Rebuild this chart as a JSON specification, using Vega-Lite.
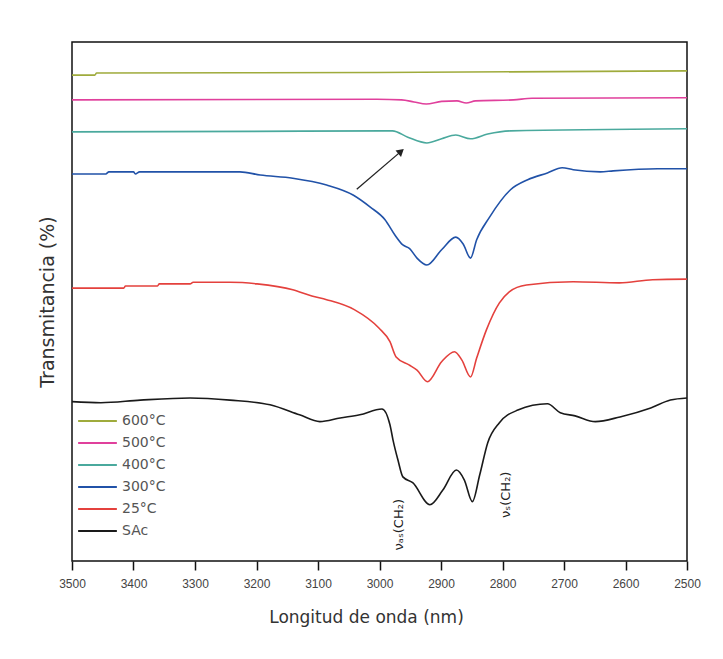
{
  "$schema": "https://vega.github.io/schema/vega-lite/v6.json",
  "width": 615,
  "height": 519,
  "autosize": {"type": "none"},
  "padding": {"left": 72, "top": 42, "right": 36, "bottom": 98},
  "background": "white",
  "config": {
    "font": "Liberation Sans",
    "view": {"stroke": "#111", "strokeWidth": 1.5},
    "axis": {"grid": false}
  },
  "datasets": {
    "spectra": [
      {"series": "600°C", "w": 3500, "t": 93.7},
      {"series": "600°C", "w": 3463, "t": 93.7},
      {"series": "600°C", "w": 3460, "t": 94.1},
      {"series": "600°C", "w": 3004, "t": 94.2},
      {"series": "600°C", "w": 2500, "t": 94.5},

      {"series": "500°C", "w": 3500, "t": 89.0},
      {"series": "500°C", "w": 3004, "t": 89.1},
      {"series": "500°C", "w": 2964, "t": 89.0},
      {"series": "500°C", "w": 2944, "t": 88.6},
      {"series": "500°C", "w": 2924, "t": 88.2},
      {"series": "500°C", "w": 2899, "t": 88.7},
      {"series": "500°C", "w": 2874, "t": 88.8},
      {"series": "500°C", "w": 2859, "t": 88.4},
      {"series": "500°C", "w": 2844, "t": 88.8},
      {"series": "500°C", "w": 2782, "t": 89.0},
      {"series": "500°C", "w": 2752, "t": 89.3},
      {"series": "500°C", "w": 2500, "t": 89.4},

      {"series": "400°C", "w": 3500, "t": 82.9},
      {"series": "400°C", "w": 3205, "t": 83.0},
      {"series": "400°C", "w": 2989, "t": 83.1},
      {"series": "400°C", "w": 2979, "t": 83.1},
      {"series": "400°C", "w": 2954, "t": 81.9},
      {"series": "400°C", "w": 2923, "t": 80.8},
      {"series": "400°C", "w": 2899, "t": 81.6},
      {"series": "400°C", "w": 2876, "t": 82.3},
      {"series": "400°C", "w": 2852, "t": 81.6},
      {"series": "400°C", "w": 2824, "t": 82.5},
      {"series": "400°C", "w": 2787, "t": 83.1},
      {"series": "400°C", "w": 2500, "t": 83.5},

      {"series": "300°C", "w": 3500, "t": 74.9},
      {"series": "300°C", "w": 3445, "t": 74.9},
      {"series": "300°C", "w": 3440, "t": 75.3},
      {"series": "300°C", "w": 3400, "t": 75.3},
      {"series": "300°C", "w": 3397, "t": 74.9},
      {"series": "300°C", "w": 3390, "t": 75.3},
      {"series": "300°C", "w": 3227, "t": 75.3},
      {"series": "300°C", "w": 3194, "t": 74.7},
      {"series": "300°C", "w": 3141, "t": 74.1},
      {"series": "300°C", "w": 3086, "t": 72.8},
      {"series": "300°C", "w": 3043, "t": 70.9},
      {"series": "300°C", "w": 3015, "t": 68.6},
      {"series": "300°C", "w": 2991, "t": 66.2},
      {"series": "300°C", "w": 2975, "t": 63.3},
      {"series": "300°C", "w": 2962, "t": 61.4},
      {"series": "300°C", "w": 2951, "t": 60.7},
      {"series": "300°C", "w": 2939, "t": 58.9},
      {"series": "300°C", "w": 2923, "t": 57.6},
      {"series": "300°C", "w": 2899, "t": 60.5},
      {"series": "300°C", "w": 2876, "t": 62.9},
      {"series": "300°C", "w": 2864, "t": 61.6},
      {"series": "300°C", "w": 2852, "t": 58.9},
      {"series": "300°C", "w": 2842, "t": 62.4},
      {"series": "300°C", "w": 2821, "t": 66.7},
      {"series": "300°C", "w": 2787, "t": 71.9},
      {"series": "300°C", "w": 2759, "t": 73.8},
      {"series": "300°C", "w": 2727, "t": 75.1},
      {"series": "300°C", "w": 2703, "t": 76.1},
      {"series": "300°C", "w": 2685, "t": 75.7},
      {"series": "300°C", "w": 2641, "t": 75.3},
      {"series": "300°C", "w": 2620, "t": 75.5},
      {"series": "300°C", "w": 2548, "t": 75.9},
      {"series": "300°C", "w": 2500, "t": 75.9},

      {"series": "25°C", "w": 3500, "t": 53.2},
      {"series": "25°C", "w": 3416, "t": 53.2},
      {"series": "25°C", "w": 3413, "t": 53.6},
      {"series": "25°C", "w": 3361, "t": 53.6},
      {"series": "25°C", "w": 3358, "t": 54.0},
      {"series": "25°C", "w": 3308, "t": 54.0},
      {"series": "25°C", "w": 3303, "t": 54.3},
      {"series": "25°C", "w": 3243, "t": 54.3},
      {"series": "25°C", "w": 3199, "t": 54.0},
      {"series": "25°C", "w": 3141, "t": 52.9},
      {"series": "25°C", "w": 3110, "t": 51.7},
      {"series": "25°C", "w": 3086, "t": 51.0},
      {"series": "25°C", "w": 3041, "t": 49.1},
      {"series": "25°C", "w": 3001, "t": 45.6},
      {"series": "25°C", "w": 2983, "t": 43.0},
      {"series": "25°C", "w": 2973, "t": 40.1},
      {"series": "25°C", "w": 2952, "t": 38.6},
      {"series": "25°C", "w": 2939, "t": 37.6},
      {"series": "25°C", "w": 2922, "t": 35.4},
      {"series": "25°C", "w": 2899, "t": 39.2},
      {"series": "25°C", "w": 2878, "t": 41.1},
      {"series": "25°C", "w": 2866, "t": 39.5},
      {"series": "25°C", "w": 2852, "t": 36.3},
      {"series": "25°C", "w": 2842, "t": 39.9},
      {"series": "25°C", "w": 2826, "t": 45.3},
      {"series": "25°C", "w": 2805, "t": 50.4},
      {"series": "25°C", "w": 2789, "t": 52.5},
      {"series": "25°C", "w": 2761, "t": 53.8},
      {"series": "25°C", "w": 2685, "t": 54.4},
      {"series": "25°C", "w": 2610, "t": 54.2},
      {"series": "25°C", "w": 2556, "t": 54.8},
      {"series": "25°C", "w": 2500, "t": 54.9},

      {"series": "SAc", "w": 3500, "t": 31.6},
      {"series": "SAc", "w": 3453, "t": 31.4},
      {"series": "SAc", "w": 3389, "t": 31.9},
      {"series": "SAc", "w": 3308, "t": 32.3},
      {"series": "SAc", "w": 3243, "t": 31.9},
      {"series": "SAc", "w": 3178, "t": 31.0},
      {"series": "SAc", "w": 3130, "t": 29.1},
      {"series": "SAc", "w": 3097, "t": 27.8},
      {"series": "SAc", "w": 3064, "t": 28.5},
      {"series": "SAc", "w": 3032, "t": 29.1},
      {"series": "SAc", "w": 2996, "t": 30.2},
      {"series": "SAc", "w": 2983, "t": 27.2},
      {"series": "SAc", "w": 2978, "t": 24.3},
      {"series": "SAc", "w": 2970, "t": 20.5},
      {"series": "SAc", "w": 2962, "t": 17.3},
      {"series": "SAc", "w": 2946, "t": 16.2},
      {"series": "SAc", "w": 2918, "t": 12.0},
      {"series": "SAc", "w": 2897, "t": 14.8},
      {"series": "SAc", "w": 2875, "t": 18.6},
      {"series": "SAc", "w": 2862, "t": 16.7},
      {"series": "SAc", "w": 2849, "t": 12.6},
      {"series": "SAc", "w": 2837, "t": 17.7},
      {"series": "SAc", "w": 2824, "t": 23.8},
      {"series": "SAc", "w": 2805, "t": 27.6},
      {"series": "SAc", "w": 2775, "t": 30.0},
      {"series": "SAc", "w": 2727, "t": 31.2},
      {"series": "SAc", "w": 2706, "t": 29.5},
      {"series": "SAc", "w": 2682, "t": 28.9},
      {"series": "SAc", "w": 2649, "t": 27.8},
      {"series": "SAc", "w": 2609, "t": 28.7},
      {"series": "SAc", "w": 2559, "t": 30.4},
      {"series": "SAc", "w": 2527, "t": 31.9},
      {"series": "SAc", "w": 2500, "t": 32.3}
    ],
    "arrow": [
      {"w": 3037, "t": 72.0, "w2": 2965, "t2": 79.2}
    ],
    "arrowhead": [
      {"w": 2965, "t": 79.2}
    ],
    "notes": [
      {"w": 2968, "t": 8.2, "label": "νₐₛ(CH₂)"},
      {"w": 2794, "t": 13.9, "label": "νₛ(CH₂)"}
    ]
  },
  "layer": [
    {
      "data": {"name": "spectra"},
      "mark": {"type": "line", "strokeWidth": 1.6, "interpolate": "monotone"},
      "encoding": {
        "x": {
          "field": "w",
          "type": "quantitative",
          "scale": {"domain": [2500, 3500], "reverse": true, "nice": false, "zero": false},
          "axis": {
            "title": "Longitud de onda (nm)",
            "titleFont": "DejaVu Sans",
            "titleFontSize": 17,
            "titleFontWeight": "normal",
            "titleColor": "#333",
            "titlePadding": 20,
            "titleX": 294,
            "titleAlign": "center",
            "values": [2500, 2550, 2600, 2650, 2700, 2750, 2800, 2850, 2900, 2950, 3000, 3050, 3100, 3150, 3200, 3250, 3300, 3350, 3400, 3450, 3500],
            "format": "d",
            "labelExpr": "datum.value % 100 === 0 ? datum.label : ''",
            "labelOverlap": false,
            "labelFlush": false,
            "labelFontSize": 12,
            "labelColor": "#444",
            "labelPadding": 8,
            "domain": false,
            "ticks": true,
            "tickColor": "#111",
            "tickWidth": 1.5,
            "tickSize": 9,
            "encode": {
              "ticks": {
                "update": {
                  "y2": {"signal": "datum.value % 100 === 0 ? 9 : 5"}
                }
              }
            }
          }
        },
        "y": {
          "field": "t",
          "type": "quantitative",
          "scale": {"domain": [1.3, 100], "nice": false, "zero": false},
          "axis": {
            "title": "Transmitancia (%)",
            "titleFont": "DejaVu Sans",
            "titleFontSize": 19,
            "titleFontWeight": "normal",
            "titleColor": "#333",
            "titlePadding": 15,
            "ticks": false,
            "labels": false,
            "domain": false
          }
        },
        "color": {
          "field": "series",
          "type": "nominal",
          "scale": {
            "domain": ["600°C", "500°C", "400°C", "300°C", "25°C", "SAc"],
            "range": ["#9fab3c", "#e0409c", "#4aa99d", "#2152a8", "#e4413d", "#1a1a1a"]
          },
          "legend": {
            "title": null,
            "orient": "none",
            "legendX": 5,
            "legendY": 370,
            "symbolType": "stroke",
            "symbolSize": 1500,
            "symbolStrokeWidth": 2,
            "labelFont": "DejaVu Sans",
            "labelFontSize": 14,
            "labelColor": "#555",
            "clipHeight": 18,
            "rowPadding": 4
          }
        }
      }
    },
    {
      "data": {"name": "arrow"},
      "mark": {"type": "rule", "strokeWidth": 1.3, "color": "#222"},
      "encoding": {
        "x": {"field": "w", "type": "quantitative"},
        "y": {"field": "t", "type": "quantitative"},
        "x2": {"field": "w2"},
        "y2": {"field": "t2"}
      }
    },
    {
      "data": {"name": "arrowhead"},
      "mark": {"type": "point", "shape": "triangle-up", "filled": true, "color": "#222", "size": 70, "angle": 49, "opacity": 1},
      "encoding": {
        "x": {"field": "w", "type": "quantitative"},
        "y": {"field": "t", "type": "quantitative"}
      }
    },
    {
      "data": {"name": "notes"},
      "mark": {"type": "text", "angle": 270, "font": "DejaVu Sans", "fontSize": 13, "color": "#222", "align": "center", "baseline": "middle"},
      "encoding": {
        "x": {"field": "w", "type": "quantitative"},
        "y": {"field": "t", "type": "quantitative"},
        "text": {"field": "label"}
      }
    }
  ]
}
